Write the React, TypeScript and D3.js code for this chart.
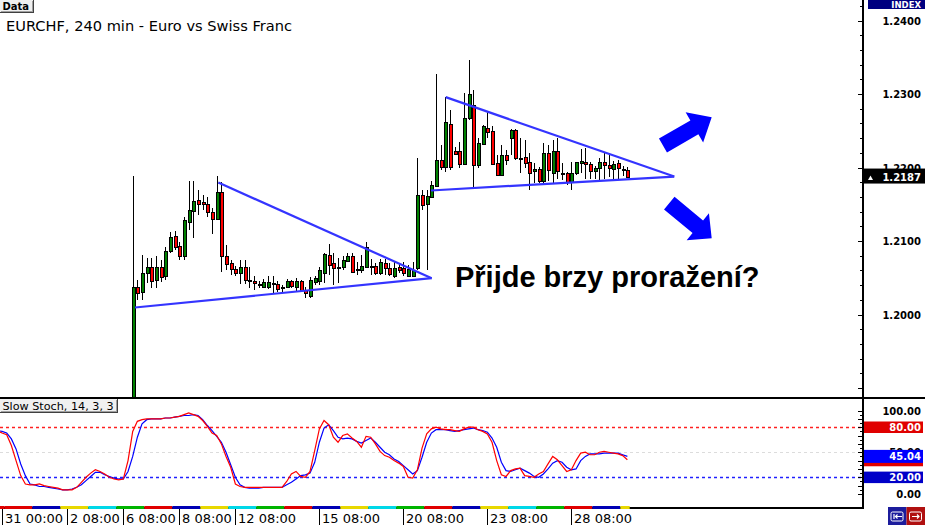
import React from 'react';
import * as d3 from 'd3';

// ---------- DATA ----------
// candle index 0 = first visible 4h candle
const opens = [1.1220,1.2038,1.2030,1.2057,1.2065,1.2047,1.2065,1.2052,1.2087,1.2107,1.2093,1.2079,1.2126,1.2141,1.2156,1.2153,1.2151,1.2139,1.2130,1.2167,1.2080,1.2070,1.2062,1.2056,1.2064,1.2047,1.2046,1.2042,1.2038,1.2038,1.2043,1.2042,1.2037,1.2038,1.2045,1.2038,1.2046,1.2033,1.2025,1.2044,1.2045,1.2057,1.2081,1.2070,1.2064,1.2064,1.2073,1.2080,1.2062,1.2060,1.2065,1.2066,1.2066,1.2056,1.2070,1.2063,1.2053,1.2064,1.2063,1.2053,1.2052,1.2063,1.2163,1.2150,1.2160,1.2175,1.2210,1.2201,1.2259,1.2222,1.2222,1.2205,1.2267,1.2285,1.2204,1.2232,1.2254,1.2250,1.2206,1.2190,1.2217,1.2240,1.2251,1.2213,1.2214,1.2207,1.2195,1.2198,1.2181,1.2220,1.2192,1.2222,1.2193,1.2193,1.2180,1.2192,1.2206,1.2207,1.2205,1.2195,1.2200,1.2207,1.2204,1.2198,1.2206,1.2198,1.2197];
const highs = [1.2189,1.2047,1.2081,1.2077,1.2077,1.2079,1.2074,1.2092,1.2112,1.2113,1.2098,1.2133,1.2181,1.2182,1.2170,1.2163,1.2160,1.2145,1.2189,1.2180,1.2095,1.2074,1.2066,1.2074,1.2074,1.2065,1.2053,1.2045,1.2048,1.2053,1.2053,1.2046,1.2040,1.2048,1.2047,1.2050,1.2047,1.2038,1.2051,1.2053,1.2065,1.2084,1.2096,1.2084,1.2077,1.2079,1.2083,1.2083,1.2072,1.2081,1.2099,1.2075,1.2070,1.2075,1.2075,1.2070,1.2072,1.2070,1.2071,1.2068,1.2072,1.2213,1.2170,1.2170,1.2181,1.2327,1.2231,1.2296,1.2278,1.2228,1.2235,1.2302,1.2346,1.2306,1.2240,1.2258,1.2276,1.2256,1.2217,1.2231,1.2224,1.2253,1.2253,1.2240,1.2238,1.2220,1.2206,1.2201,1.2233,1.2231,1.2238,1.2240,1.2206,1.2194,1.2207,1.2208,1.2225,1.2226,1.2207,1.2202,1.2213,1.2220,1.2220,1.2209,1.2210,1.2202,1.2201];
const lows = [1.1210,1.2020,1.2020,1.2043,1.2036,1.2036,1.2044,1.2047,1.2084,1.2088,1.2074,1.2074,1.2115,1.2104,1.2136,1.2142,1.2133,1.2110,1.2129,1.2058,1.2061,1.2054,1.2053,1.2042,1.2042,1.2036,1.2034,1.2036,1.2037,1.2035,1.2029,1.2031,1.2031,1.2036,1.2036,1.2031,1.2030,1.2022,1.2022,1.2040,1.2040,1.2043,1.2054,1.2040,1.2043,1.2061,1.2072,1.2056,1.2054,1.2056,1.2063,1.2054,1.2054,1.2054,1.2054,1.2052,1.2050,1.2057,1.2053,1.2051,1.2051,1.2061,1.2142,1.2061,1.2158,1.2174,1.2197,1.2194,1.2197,1.2217,1.2199,1.2204,1.2265,1.2172,1.2199,1.2231,1.2240,1.2204,1.2188,1.2189,1.2204,1.2217,1.2210,1.2192,1.2199,1.2170,1.2179,1.2179,1.2179,1.2181,1.2179,1.2185,1.2183,1.2176,1.2169,1.2190,1.2192,1.2185,1.2185,1.2184,1.2183,1.2185,1.2187,1.2184,1.2185,1.2189,1.2187];
const closes = [1.2038,1.2029,1.2057,1.2065,1.2046,1.2065,1.2051,1.2087,1.2106,1.2092,1.2079,1.2128,1.2142,1.2154,1.2151,1.2151,1.2139,1.2130,1.2167,1.2080,1.2069,1.2062,1.2056,1.2064,1.2047,1.2045,1.2043,1.2040,1.2044,1.2044,1.2042,1.2035,1.2036,1.2045,1.2039,1.2046,1.2033,1.2029,1.2047,1.2050,1.2061,1.2082,1.2068,1.2063,1.2065,1.2074,1.2080,1.2058,1.2060,1.2066,1.2092,1.2064,1.2057,1.2071,1.2063,1.2055,1.2063,1.2060,1.2056,1.2062,1.2061,1.2163,1.2149,1.2161,1.2176,1.2210,1.2201,1.2262,1.2201,1.2219,1.2205,1.2267,1.2300,1.2204,1.2234,1.2256,1.2248,1.2205,1.2190,1.2217,1.2210,1.2251,1.2213,1.2212,1.2206,1.2193,1.2198,1.2181,1.2220,1.2197,1.2222,1.2195,1.2192,1.2180,1.2193,1.2207,1.2209,1.2205,1.2195,1.2200,1.2208,1.2203,1.2200,1.2205,1.2199,1.2197,1.2187];

// Slow stochastic (14,3,3), first value at candle index -29
const stochStart = -29;
const stochK = [76,73,71,58,40,22,12,11,11,12,10,9,8,7,5,5,5,8,14,20,25,29,27,24,20,18,17,18,40,75,87,89,90,90,90,90,91,91,92,93,95,97,95,93,88,81,73,70,60,45,32,12,9,8,8,8,8,8,8,8,8,8,15,24,27,21,20,27,52,78,88,83,68,62,70,72,67,63,56,69,68,60,51,46,44,40,37,33,20,19,29,55,72,78,80,78,77,77,76,75,78,80,80,77,75,72,62,40,23,21,28,30,31,22,21,20,24,27,36,45,41,34,27,29,40,49,50,47,47,50,51,50,49,48,46,41];
const stochD = [76,75,73,66,54,36,22,12,11,9,9,8,7,6,5,5,6,8,11,16,21,26,26,23,21,19,18,18,27,45,68,84,89,90,90,90,91,91,92,93,94,94,95,94,89,82,76,69,62,50,35,20,11,8,7,7,7,8,8,8,8,8,11,14,18,22,23,25,38,62,79,83,76,68,66,67,66,63,61,64,67,62,56,50,47,42,39,34,29,24,28,44,62,73,77,77,77,76,75,76,77,78,79,77,76,74,67,56,38,28,27,29,31,28,25,21,20,24,30,37,40,38,32,29,30,40,45,48,48,48,49,49,49,49,47,45.04];

const priceLabels = [1.20, 1.21, 1.22, 1.23, 1.24];
const lastPrice = 1.2187;
const stochLevels = [20, 50, 80];
const stochAxisLabels = [0, 100];

const dateLabelIdx = [-28, -14, -2, 10, 22, 40, 58, 76, 94];
const dateLabels = ['31 00:00', '2 08:00', '6 08:00', '8 08:00', '12 08:00', '15 08:00', '20 08:00', '23 08:00', '28 08:00'];
const dayBreakStart = -21.5;
const dayColors = ['#e00000', '#0000b4', '#e8d800', '#00d8e8', '#00b400'];

// trend lines [candle index, price]
const triangle1Upper = [[18.34, 1.21795], [64.07, 1.20494]];
const triangle1Lower = [[0.49, 1.20095], [64.07, 1.20494]];
const triangle2Upper = [[67.07, 1.22957], [116.05, 1.21877]];
const triangle2Lower = [[63.92, 1.21687], [116.05, 1.21877]];
const arrowUp = [[113.63, 1.2230], [124.07, 1.22683]];
const arrowDown = [[114.98, 1.21514], [124.07, 1.21038]];
const calloutAt = [69.06, 1.20376];
const calloutText = 'Přijde brzy proražení?';
const titleText = 'EURCHF, 240 min - Euro vs Swiss Franc';

// ---------- LAYOUT ----------
const W = 925, H = 525;
const PR = 863; // price axis x
const MAIN_B = 397;
const ST_T = 399, ST_B = 507;
const F = 'DejaVu Sans';

const xs = d3.scaleLinear().domain([0, 106]).range([132.7, 132.7 + 106 * 28 / 6]);
const ym = d3.scaleLinear().domain([1.20, 1.24]).range([314.5, 20.5]);
const ysk = d3.scaleLinear().domain([0, 100]).range([494, 410.5]);
const fmt4 = d3.format('.4f');
const fmt2 = d3.format('.2f');

function arrowPoly(x1: number, y1: number, x2: number, y2: number, sw: number, hw: number, hl: number) {
  const dx = x2 - x1, dy = y2 - y1;
  const L = Math.hypot(dx, dy);
  const ux = dx / L, uy = dy / L;
  const nx = -uy, ny = ux;
  const bx = x2 - ux * hl, by = y2 - uy * hl;
  const pts = [
    [x1 + nx * sw / 2, y1 + ny * sw / 2],
    [bx + nx * sw / 2, by + ny * sw / 2],
    [bx + nx * hw / 2, by + ny * hw / 2],
    [x2, y2],
    [bx - nx * hw / 2, by - ny * hw / 2],
    [bx - nx * sw / 2, by - ny * sw / 2],
    [x1 - nx * sw / 2, y1 - ny * sw / 2],
  ];
  return pts.map(p => p.join(',')).join(' ');
}

function Label({ x, y, w, h, text, bold }: any) {
  return (
    <g>
      <rect x={x} y={y} width={w} height={h} fill="#f0f0f0" />
      <line x1={x} x2={x + w} y1={y + h - 0.5} y2={y + h - 0.5} stroke="#404040" />
      <line x1={x + w - 0.5} x2={x + w - 0.5} y1={y} y2={y + h} stroke="#404040" />
      <line x1={x + w - 1.5} x2={x + w - 1.5} y1={y + 1} y2={y + h - 1} stroke="#a0a0a0" />
      <line x1={x + 1} x2={x + w - 1} y1={y + h - 1.5} y2={y + h - 1.5} stroke="#a0a0a0" />
      <text x={x + 2.5} y={y + h - 3} fontSize={bold ? 10 : 11.2} fontWeight={bold ? 'bold' : 'normal'} fill="#000">{text}</text>
    </g>
  );
}

export default function App() {
  const idx = d3.range(opens.length);
  const kLine = d3.line<number>().x((_, j) => xs(stochStart + j)).y(v => ysk(v));
  const trend = (pts: number[][]) => (
    <line x1={xs(pts[0][0])} y1={ym(pts[0][1])} x2={xs(pts[1][0])} y2={ym(pts[1][1])}
      stroke="#3434ff" strokeWidth={2.2} />
  );
  const minorTicks = d3.range(595, 622).map(k => k * 0.002);
  const stTicks = d3.range(0, 101, 5);
  const nSeg = Math.ceil((106.5 - dayBreakStart) / 6) + 2;
  const segs = d3.range(-1, nSeg).map(k => {
    const a = Math.max(dayBreakStart + 6 * (k - 1), stochStart);
    const b = Math.min(dayBreakStart + 6 * k, 106.5);
    return { a, b, c: dayColors[((k % 5) + 5) % 5] };
  }).filter(s => s.b > s.a);
  segs[0].c = dayColors[0];

  const lastK = stochK[stochK.length - 1];
  const lastD = stochD[stochD.length - 1];
  const dTop = ysk(lastD) - 6.5;

  return (
    <svg width={W} height={H} style={{ position: 'absolute', left: 0, top: 0 }} fontFamily={F}>
      <defs>
        <clipPath id="cm"><rect x={0} y={0} width={PR - 1} height={MAIN_B} /></clipPath>
        <clipPath id="cs"><rect x={0} y={ST_T} width={PR - 1} height={ST_B - ST_T} /></clipPath>
        <clipPath id="c50"><rect x={PR + 1} y={0} width={W - PR} height={dTop} /></clipPath>
      </defs>
      <rect width={W} height={H} fill="#fff" />

      {/* main candles */}
      <g clipPath="url(#cm)">
        {idx.map(i => {
          const o = opens[i], c = closes[i], h = highs[i], l = lows[i];
          const cx = Math.round(xs(i)) + 0.5;
          const top = Math.round(ym(Math.max(o, c)));
          const bot = Math.round(ym(Math.min(o, c)));
          const bh = Math.max(bot - top, 1);
          const up = c > o;
          const doji = Math.abs(c - o) < 0.00005;
          return (
            <g key={i}>
              <line x1={cx} x2={cx} y1={Math.round(ym(h))} y2={Math.round(ym(l))} stroke="#000" />
              {doji ? (
                <line x1={cx - 1.5} x2={cx + 2.5} y1={top + 0.5} y2={top + 0.5} stroke="#000" />
              ) : (
                <rect x={cx - 1} y={top + 0.5} width={3} height={bh} fill={up ? '#008000' : '#ff0000'} stroke="#000" />
              )}
            </g>
          );
        })}
        {trend(triangle1Upper)}
        {trend(triangle1Lower)}
        {trend(triangle2Upper)}
        {trend(triangle2Lower)}
        <polygon points={arrowPoly(xs(arrowUp[0][0]), ym(arrowUp[0][1]), xs(arrowUp[1][0]), ym(arrowUp[1][1]), 16, 35, 20)} fill="#0000ff" />
        <polygon points={arrowPoly(xs(arrowDown[0][0]), ym(arrowDown[0][1]), xs(arrowDown[1][0]), ym(arrowDown[1][1]), 16.5, 35, 18)} fill="#0000ff" />
        <text x={xs(calloutAt[0])} y={ym(calloutAt[1])} fontFamily="Liberation Sans" fontWeight="bold" fontSize={29} fill="#000">{calloutText}</text>
      </g>

      {/* title */}
      <text x={6} y={30.5} fontSize={14.6} fill="#000">{titleText}</text>
      <Label x={0} y={0} w={34} h={13} text="Data" bold />

      {/* stochastic panel */}
      <g clipPath="url(#cs)">
        {stochLevels.map(v => (
          <line key={v} x1={0} x2={PR} y1={Math.round(ysk(v)) + 0.5} y2={Math.round(ysk(v)) + 0.5}
            stroke={v === 80 ? '#ff2020' : v === 20 ? '#2020ff' : '#dcdcdc'} strokeDasharray="3,3" strokeWidth={v === 50 ? 1 : 1.3} />
        ))}
        <path d={kLine(stochD) || ''} fill="none" stroke="#0000ff" strokeWidth={1.2} />
        <path d={kLine(stochK) || ''} fill="none" stroke="#ff0000" strokeWidth={1.2} />
      </g>
      <Label x={0} y={399} w={118} h={14} text="Slow Stoch, 14, 3, 3" />

      {/* frames */}
      <line x1={0} x2={W} y1={398} y2={398} stroke="#000" strokeWidth={2} />
      <line x1={PR} x2={PR} y1={0} y2={509} stroke="#000" strokeWidth={2} />
      <line x1={0} x2={PR} y1={508} y2={508} stroke="#000" strokeWidth={2} />

      {/* price axis */}
      {minorTicks.map((p, k) => {
        const major = Math.round(p * 1000) % 10 === 0;
        const yy = Math.round(ym(p)) + 0.5;
        return <line key={k} x1={PR - (major ? 5 : 3)} x2={PR} y1={yy} y2={yy} stroke="#000" />;
      })}
      {priceLabels.map(p => (
        <text key={p} x={921} y={ym(p) + 4} textAnchor="end" fontSize={10} fontWeight="bold" fill="#000">{fmt4(p)}</text>
      ))}
      <rect x={868} y={0} width={57} height={9} fill="#000080" />
      <text x={921} y={8} textAnchor="end" fontSize={8.5} fontWeight="bold" fill="#fff">INDEX</text>
      <rect x={PR + 1} y={ym(lastPrice) - 8.5} width={W - PR - 1} height={15} fill="#000" />
      <path d={`M868,${ym(lastPrice) + 3} L870.5,${ym(lastPrice) - 1.5} L873,${ym(lastPrice) + 3} Z`} fill="#fff" />
      <text x={921} y={ym(lastPrice) + 3.5} textAnchor="end" fontSize={10} fontWeight="bold" fill="#fff">{fmt4(lastPrice)}</text>

      {/* stoch axis */}
      {stTicks.map(v => {
        const yy = Math.round(ysk(v)) + 0.5;
        const major = v % 10 === 0;
        return <line key={v} x1={PR - (major ? 5 : 3)} x2={PR} y1={yy} y2={yy} stroke="#000" />;
      })}
      {stochAxisLabels.map(v => (
        <text key={v} x={921} y={ysk(v) + 4} textAnchor="end" fontSize={10} fontWeight="bold" fill="#000">{fmt2(v)}</text>
      ))}
      <g clipPath="url(#c50)">
        <text x={921} y={ysk(50) + 4} textAnchor="end" fontSize={10} fontWeight="bold" fill="#000">{fmt2(50)}</text>
      </g>
      <rect x={PR + 1} y={ysk(80) - 5.7} width={59} height={11.5} fill="#e00000" />
      <text x={921} y={ysk(80) + 4} textAnchor="end" fontSize={10} fontWeight="bold" fill="#fff">{fmt2(80)}</text>
      <rect x={PR + 1} y={ysk(20) - 5.7} width={59} height={11.5} fill="#0000c8" />
      <text x={921} y={ysk(20) + 4} textAnchor="end" fontSize={10} fontWeight="bold" fill="#fff">{fmt2(20)}</text>
      <rect x={PR + 1} y={ysk(lastK) - 6} width={59} height={12.5} fill="#e00000" />
      <rect x={PR + 1} y={dTop} width={59} height={13} fill="#0000ff" />
      <text x={921} y={ysk(lastD) + 4} textAnchor="end" fontSize={10} fontWeight="bold" fill="#fff">{fmt2(lastD)}</text>

      {/* time axis */}
      {segs.map((s, k) => (
        <rect key={k} x={Math.max(0, xs(s.a))} y={506} width={xs(s.b) - Math.max(0, xs(s.a))} height={3} fill={s.c} />
      ))}
      {dateLabelIdx.map((d, k) => {
        const x = Math.round(xs(d)) + 0.5;
        return (
          <g key={k}>
            <line x1={x} x2={x} y1={509} y2={H} stroke="#000" />
            <text x={x + 2.5} y={522.5} fontSize={13} fill="#000">{dateLabels[k]}</text>
          </g>
        );
      })}
      <rect x={888} y={507} width={18.5} height={18} fill="#1c1c9c" />
      <rect x={906.5} y={507} width={18.5} height={18} fill="#b01010" />
      <rect x={891} y={512} width={12} height={9} rx={1.5} fill="none" stroke="#fff" />
      <path d="M894,514 V519 M902,516.5 H895.5 M897.5,514.5 L895.5,516.5 L897.5,518.5" stroke="#fff" fill="none" strokeWidth={1.2} />
      <rect x={909.5} y={512} width={12} height={9} rx={1.5} fill="none" stroke="#fff" />
      <path d="M912,516.5 H919 M917,514.5 L919,516.5 L917,518.5" stroke="#fff" fill="none" strokeWidth={1.2} />
    </svg>
  );
}
